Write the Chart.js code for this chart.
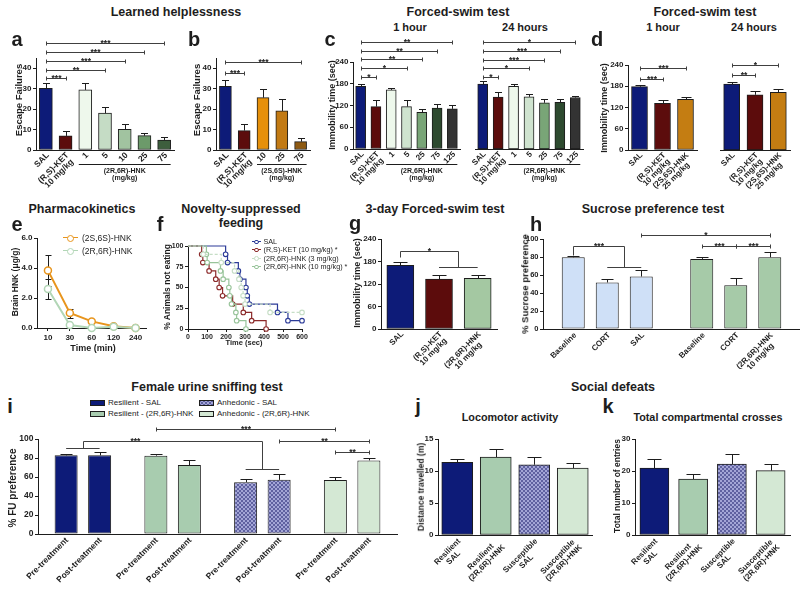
<!DOCTYPE html>
<html>
<head>
<meta charset="utf-8">
<title>HNK behavioural figure</title>
<script src="https://cdn.jsdelivr.net/npm/chart.js@4.4.1/dist/chart.umd.min.js"></script>
<style>
  body { margin: 0; background: #fff; }
  #fig { position: relative; width: 800px; height: 590px; overflow: hidden; background: #fff;
         font-family: "Liberation Sans", Arial, sans-serif; color: #1d1d1d; }
  #fig canvas { position: absolute; }
  .tx { position: absolute; white-space: nowrap; line-height: 1; }
</style>
</head>
<body>
<div id="fig"></div>
<script>
// ---------- data ----------
// a: learned helplessness, (2R,6R)-HNK
const lhLabelsA = ['SAL', ['(R,S)-KET', '10 mg/kg'], '1', '5', '10', '25', '75'];
const lhMeansA = [30.2, 6.9, 29.4, 18, 10.1, 7, 4.9];
const lhErrA = [2.8, 2.4, 3.3, 3.2, 2.5, 1.5, 1.6];
// b: learned helplessness, (2S,6S)-HNK
const lhLabelsB = ['SAL', ['(R,S)-KET', '10 mg/kg'], '10', '25', '75'];
const lhMeansB = [31.2, 9.5, 25.6, 19.1, 4.1];
const lhErrB = [3, 3.2, 4.1, 5.7, 1.6];
// c: forced swim, (2R,6R)-HNK
const fstLabelsC = ['SAL', ['(R,S)-KET', '10 mg/kg'], '1', '5', '25', '75', '125'];
const fst1hC = [172.6, 117, 163, 117, 101.5, 112.6, 110.8];
const fst1hErrC = [6.4, 18.7, 5, 18.7, 8.5, 12, 10.2];
const fst24hC = [179, 143, 172.6, 144, 127.4, 129, 142];
const fst24hErrC = [7.5, 15, 6.4, 8, 9.2, 10, 4.8];
// d: forced swim, (2S,6S)-HNK
const fstLabelsD = ['SAL', ['(R,S)-KET', '10 mg/kg'], ['(2S,6S)-HNK', '25 mg/kg']];
const fst1hD = [178.8, 131.8, 143];
const fst1hErrD = [3.8, 9.2, 6.6];
const fst24hD = [186.4, 156, 162.8];
const fst24hErrD = [5.6, 10.6, 8.2];
// e: pharmacokinetics
const pkTimes = ['10', '30', '60', '120', '240'];
const pkSS = [3.84, 1.0, 0.44, 0.12, 0.0];
const pkSSErr = [1.05, 0.3, 0.05, 0.04, 0];
const pkRR = [2.6, 0.2, 0.0, 0.08, 0.0];
const pkRRErr = [0.68, 0.05, 0, 0.02, 0];
// f: novelty-suppressed feeding (Kaplan-Meier steps)
const nsfSalT = [0, 198, 208, 265, 273, 305, 312, 323, 471, 526, 600];
const nsfSalP = [100, 90, 80, 70, 60, 50, 40, 30, 20, 10, 10];
const nsfKetT = [0, 72, 78, 111, 146, 164, 182, 235, 291, 335, 411];
const nsfKetP = [100, 90, 80, 70, 60, 50, 40, 30, 20, 10, 0];
const nsfHnk3T = [0, 80, 175, 245, 268, 280, 290, 300, 432, 600];
const nsfHnk3P = [100, 90, 80, 70, 60, 50, 40, 30, 20, 20];
const nsfHnk10T = [0, 97, 101, 171, 185, 215, 220, 229, 252, 256, 305];
const nsfHnk10P = [100, 90, 80, 70, 60, 50, 40, 30, 20, 10, 0];
// g: 3-day forced swim
const fst3Labels = ['SAL', ['(R,S)-KET', '10 mg/kg'], ['(2R,6R)-HNK', '10 mg/kg']];
const fst3Means = [169.8, 133.3, 135];
const fst3Err = [8.9, 10.7, 10];
// h: sucrose preference (two cohorts)
const spCohorts = ['SAL cohort', 'HNK cohort'];
const spBaseline = [79.7, 77.9];
const spBaselineErr = [1.8, 1.8];
const spCort = [51.7, 48.7];
const spCortErr = [4, 7.8];
const spTreat = [58.3, 79.7];
const spTreatErr = [7.4, 6.3];
const spTreatLabels = ['SAL', ['(2R,6R)-HNK', '10 mg/kg']];
// i: female urine sniffing
const fuGroups = ['Resilient - SAL', 'Resilient - (2R,6R)-HNK', 'Anhedonic - SAL', 'Anhedonic - (2R,6R)-HNK'];
const fuPre = [82.8, 82.5, 54.5, 56.8];
const fuPreErr = [1.4, 1.7, 3.5, 3.7];
const fuPost = [82.8, 72.6, 57, 77.5];
const fuPostErr = [3.5, 5.6, 6.5, 2.5];
// j, k: social defeat
const sdLabels = [['Resilient', 'SAL'], ['Resilient', '(2R,6R)-HNK'], ['Susceptible', 'SAL'], ['Susceptible', '(2R,6R)-HNK']];
const locoDist = [11.34, 12.18, 10.98, 10.45];
const locoErr = [0.55, 1.3, 1.2, 0.75];
const crosses = [20.9, 17.5, 22.2, 20.1];
const crossesErr = [2.8, 1.6, 3, 2];

// ---------- styling ----------
const FAM = '"Liberation Sans", Arial, sans-serif';
const INK = '#1d1d1d';
const SIGC = '#404040';
const NAVY = '#0d1b78';
const KETC = '#5c0c0c';
const RESHNK = '#a8ccaf';
const ANHHNK = '#d4e8d4';

Chart.defaults.font.family = FAM;
Chart.defaults.color = INK;

const fig = document.getElementById('fig');
const decoCfg = new Map();

function hatchCanvas() {
  const p = document.createElement('canvas');
  p.width = 4; p.height = 4;
  const g = p.getContext('2d');
  g.fillStyle = '#a3a5d6'; g.fillRect(0, 0, 4, 4);
  g.fillStyle = '#5f61a0';
  [[0, 0], [1, 1], [2, 2], [3, 3], [3, 0], [2, 1], [1, 2], [0, 3]].forEach(([x, y]) => g.fillRect(x, y, 1, 1));
  return p;
}
const hatchSrc = hatchCanvas();
const HATCH = hatchSrc.getContext('2d').createPattern(hatchSrc, 'repeat');

function crisp(v) { return Math.round(v) + 0.5; }
function seg(ctx, x1, y1, x2, y2) { ctx.beginPath(); ctx.moveTo(x1, y1); ctx.lineTo(x2, y2); ctx.stroke(); }

function drawErrors(chart) {
  const ctx = chart.ctx, ys = chart.scales.y;
  ctx.save();
  ctx.strokeStyle = INK; ctx.lineWidth = 1;
  chart.data.datasets.forEach((ds, d) => {
    if (!ds.errors) return;
    chart.getDatasetMeta(d).data.forEach((el, i) => {
      const e = ds.errors[i];
      if (!e) return;
      const raw = ds.data[i];
      const v = typeof raw === 'object' ? raw.y : raw;
      const x = crisp(el.x);
      const top = crisp(ys.getPixelForValue(v + e));
      const bot = ds.errBoth ? crisp(ys.getPixelForValue(v - e)) : el.y;
      const cw = ds.errCap || 3;
      seg(ctx, x, bot, x, top);
      seg(ctx, x - cw, top, x + cw, top);
      if (ds.errBoth) seg(ctx, x - cw, bot, x + cw, bot);
    });
  });
  ctx.restore();
}

function drawTickLabels(chart, o) {
  const ctx = chart.ctx, bottom = chart.chartArea.bottom;
  ctx.save();
  ctx.fillStyle = INK;
  ctx.font = `bold ${o.tickFont}px ${FAM}`;
  ctx.textAlign = 'center'; ctx.textBaseline = 'middle';
  chart.data.datasets.forEach((ds, d) => {
    const labs = ds.tickLabels || (d === 0 ? chart.data.labels : null);
    if (!labs) return;
    chart.getDatasetMeta(d).data.forEach((el, i) => {
      const lines = [].concat(labs[i]);
      const w = Math.max(...lines.map(s => ctx.measureText(s).width));
      ctx.save();
      ctx.translate(el.x + o.dx, bottom + o.dy);
      ctx.rotate(-Math.PI / 4);
      lines.forEach((s, k) => ctx.fillText(s, -w / 2, k * o.lh));
      ctx.restore();
    });
  });
  ctx.restore();
}

function drawSig(chart, s) {
  const ctx = chart.ctx, ys = chart.scales.y;
  const X = r => { const [d, i] = Array.isArray(r) ? r : [0, r]; return chart.getDatasetMeta(d).data[i].x; };
  const Y = v => crisp(ys.getPixelForValue(v));
  ctx.save();
  ctx.strokeStyle = SIGC; ctx.lineWidth = 1; ctx.fillStyle = INK;
  ctx.font = `bold 8.5px ${FAM}`; ctx.textAlign = 'center'; ctx.textBaseline = 'alphabetic';
  let tx, ty;
  if (s.A) {
    const mid = refs => refs.reduce((acc, r) => acc + X(r), 0) / refs.length;
    const yA = Y(s.hA), yB = Y(s.hB), yT = Y(s.top);
    const xa = crisp(mid(s.A)), xb = crisp(mid(s.B));
    if (s.A.length > 1) seg(ctx, X(s.A[0]), yA, X(s.A[s.A.length - 1]), yA);
    if (s.B.length > 1) seg(ctx, X(s.B[0]), yB, X(s.B[s.B.length - 1]), yB);
    seg(ctx, xa, yA, xa, yT); seg(ctx, xb, yB, xb, yT); seg(ctx, xa, yT, xb, yT);
    tx = xa + (xb - xa) * (s.tf === undefined ? 0.5 : s.tf); ty = yT;
  } else {
    const x1 = crisp(X(s.a)), x2 = crisp(X(s.b)), y = Y(s.v);
    seg(ctx, x1, y, x2, y); seg(ctx, x1, y - 2, x1, y + 2); seg(ctx, x2, y - 2, x2, y + 2);
    tx = (x1 + x2) / 2; ty = y;
  }
  ctx.fillText(s.t, tx, ty + 2);
  ctx.restore();
}

function drawGroup(chart, g) {
  const ctx = chart.ctx, meta = chart.getDatasetMeta(0);
  const a = meta.data[g.from], b = meta.data[g.to];
  const y = crisp(chart.chartArea.bottom + g.dy);
  ctx.save();
  ctx.strokeStyle = INK; ctx.lineWidth = 1; ctx.fillStyle = INK;
  seg(ctx, a.x - a.width / 2, y, b.x + b.width / 2, y);
  ctx.font = `bold 7px ${FAM}`; ctx.textAlign = 'center'; ctx.textBaseline = 'top';
  g.lines.forEach((s, k) => ctx.fillText(s, (a.x + b.x) / 2, y + 3 + k * 7.5));
  ctx.restore();
}

Chart.register({
  id: 'deco',
  beforeDatasetsDraw(chart) { if (chart.config.type === 'line') drawErrors(chart); },
  afterDatasetsDraw(chart) { if (chart.config.type !== 'line') drawErrors(chart); },
  afterDraw(chart) {
    const o = decoCfg.get(chart.canvas) || {};
    if (o.tickFont) drawTickLabels(chart, o);
    (o.sig || []).forEach(s => drawSig(chart, s));
    (o.groups || []).forEach(g => drawGroup(chart, g));
  }
});

function makeCanvas(area, ext) {
  const c = document.createElement('canvas');
  c.width = Math.round(area[2] - area[0] + ext[0] + ext[2]);
  c.height = Math.round(area[3] - area[1] + ext[1] + ext[3]);
  c.style.left = (area[0] - ext[0]) + 'px';
  c.style.top = (area[1] - ext[1]) + 'px';
  fig.appendChild(c);
  return c;
}

function valAxis(max, step, width, hidden, fmt, size) {
  return {
    display: !hidden, min: 0, max,
    grid: { drawOnChartArea: false, drawTicks: true, tickLength: 3, color: INK },
    border: { display: true, color: INK, width: 1 },
    ticks: { stepSize: step, includeBounds: false, padding: 1.5, color: INK,
             font: { size: size || 8, weight: 'bold' }, callback: fmt || (v => v) },
    afterFit(s) { s.width = width; s.paddingTop = 0; s.paddingBottom = 0; }
  };
}

function catAxis(h) {
  return {
    type: 'category', offset: true,
    grid: { display: false },
    border: { display: true, color: INK, width: 1 },
    ticks: { display: false },
    afterFit(s) { s.height = h; s.paddingLeft = 0; s.paddingRight = 0; }
  };
}

function baseOptions(ext, hideY) {
  return {
    responsive: false, animation: false, devicePixelRatio: 1,
    layout: { padding: { left: hideY ? ext[0] : 0, top: ext[1], right: ext[2], bottom: 0 } },
    plugins: { legend: { display: false }, tooltip: { enabled: false } }
  };
}

function barChart(area, ext, labels, datasets, yMax, yStep, deco, opts) {
  opts = opts || {};
  const canvas = makeCanvas(area, ext);
  decoCfg.set(canvas, deco);
  const options = baseOptions(ext, opts.hideY);
  options.scales = {
    x: catAxis(ext[3]),
    y: valAxis(yMax, yStep, opts.hideY ? 0 : ext[0], opts.hideY, opts.fmt, opts.tickSize)
  };
  return new Chart(canvas, { type: 'bar', data: { labels, datasets }, options });
}

function barSet(values, errors, colors, thick, cap) {
  return { data: values, errors, backgroundColor: colors, borderColor: INK, borderWidth: 1,
           borderSkipped: false, barThickness: thick, errCap: cap };
}

// ---------- text helpers ----------
function txt(s, x, y, size, o) {
  o = o || {};
  const d = document.createElement('div');
  d.className = 'tx';
  d.textContent = s;
  d.style.left = x + 'px';
  d.style.top = y + 'px';
  d.style.fontSize = size + 'px';
  d.style.fontWeight = o.normal ? 'normal' : 'bold';
  d.style.transform = `translate(${o.left ? '0' : '-50%'},-50%)` + (o.rot ? ` rotate(${o.rot}deg)` : '');
  fig.appendChild(d);
}
function lineKey(x1, x2, y, color, dashed, r) {
  const l = document.createElement('div');
  l.style.cssText = `position:absolute;left:${x1}px;top:${y - 0.75}px;width:${x2 - x1}px;height:0;` +
    `border-top:1.5px ${dashed ? 'dashed' : 'solid'} ${color}`;
  fig.appendChild(l);
  const c = document.createElement('div');
  c.style.cssText = `position:absolute;left:${(x1 + x2) / 2 - r}px;top:${y - r}px;width:${2 * r}px;height:${2 * r}px;` +
    `box-sizing:border-box;border:1.3px solid ${color};border-radius:50%;background:#fff`;
  fig.appendChild(c);
}
function swatch(x, y, bg) {
  const s = document.createElement('div');
  s.style.cssText = `position:absolute;left:${x}px;top:${y - 3}px;width:15px;height:6px;box-sizing:border-box;` +
    `border:1px solid ${INK};background:${bg}`;
  fig.appendChild(s);
}

// ---------- panel a ----------
barChart([36, 58, 174, 150], [29, 22, 6, 40], lhLabelsA,
  [barSet(lhMeansA, lhErrA, [NAVY, KETC, '#eef8ec', '#c5dcc5', '#a1c3a0', '#6c9a6a', '#3d5e3d'], 13, 3.5)],
  45, 10,
  { tickFont: 8.5, dx: 2, dy: 4, lh: 8,
    sig: [{ a: 0, b: 1, v: 35.3, t: '***' }, { a: 0, b: 3, v: 39, t: '**' }, { a: 0, b: 4, v: 43.4, t: '***' },
          { a: 0, b: 5, v: 47.7, t: '***' }, { a: 0, b: 6, v: 52.3, t: '***' }],
    groups: [{ from: 2, to: 6, dy: 14, lines: ['(2R,6R)-HNK', '(mg/kg)'] }] });

// ---------- panel b ----------
barChart([216, 58, 310, 150], [26, 22, 4, 40], lhLabelsB,
  [barSet(lhMeansB, lhErrB, [NAVY, KETC, '#e6900a', '#c27a14', '#8e5a12'], 12, 3.5)],
  45, 10,
  { tickFont: 8.5, dx: 2, dy: 4, lh: 8,
    sig: [{ a: 0, b: 1, v: 37.7, t: '***' }, { a: 0, b: 4, v: 43.1, t: '***' }],
    groups: [{ from: 2, to: 4, dy: 14, lines: ['(2S,6S)-HNK', '(mg/kg)'] }] });

// ---------- panel c ----------
const cColors = [NAVY, KETC, '#eef8ec', '#cfe3cf', '#79a577', '#2d4a2f', '#333333'];
barChart([353, 62, 460, 149], [26, 26, 4, 40], fstLabelsC,
  [barSet(fst1hC, fst1hErrC, cColors, 10, 3.5)], 240, 60,
  { tickFont: 8, dx: 2, dy: 4, lh: 7.5,
    sig: [{ a: 0, b: 1, v: 198.6, t: '*' }, { a: 0, b: 3, v: 222.6, t: '*' }, { a: 0, b: 4, v: 247.4, t: '**' },
          { a: 0, b: 5, v: 271, t: '**' }, { a: 0, b: 6, v: 296, t: '**' }],
    groups: [{ from: 2, to: 6, dy: 15, lines: ['(2R,6R)-HNK', '(mg/kg)'] }] });
barChart([475, 62, 583, 149], [10, 26, 4, 40], fstLabelsC,
  [barSet(fst24hC, fst24hErrC, cColors, 10, 3.5)], 240, 60,
  { tickFont: 8, dx: 2, dy: 4, lh: 7.5,
    sig: [{ a: 0, b: 1, v: 199.4, t: '*' }, { a: 0, b: 3, v: 222.6, t: '*' }, { a: 0, b: 4, v: 245.5, t: '***' },
          { a: 0, b: 5, v: 270, t: '***' }, { a: 0, b: 6, v: 294, t: '*' }],
    groups: [{ from: 2, to: 6, dy: 15, lines: ['(2R,6R)-HNK', '(mg/kg)'] }] },
  { hideY: true });

// ---------- panel d ----------
const dColors = [NAVY, KETC, '#c47d12'];
barChart([628, 65, 697, 150], [26, 22, 4, 40], fstLabelsD,
  [barSet(fst1hD, fst1hErrD, dColors, 16, 5)], 240, 60,
  { tickFont: 8, dx: 2, dy: 4, lh: 7.5,
    sig: [{ a: 0, b: 1, v: 200.6, t: '***' }, { a: 0, b: 2, v: 231.6, t: '***' }] });
barChart([720, 65, 790, 150], [10, 22, 8, 40], fstLabelsD,
  [barSet(fst24hD, fst24hErrD, dColors, 16, 5)], 240, 60,
  { tickFont: 8, dx: 2, dy: 4, lh: 7.5,
    sig: [{ a: 0, b: 1, v: 211.9, t: '**' }, { a: 0, b: 2, v: 240, t: '*' }] },
  { hideY: true });

// ---------- panel e (line) ----------
(function () {
  const area = [37, 238, 148, 328], ext = [28, 8, 4, 28];
  const canvas = makeCanvas(area, ext);
  decoCfg.set(canvas, {});
  const options = baseOptions(ext, false);
  options.scales = {
    x: { type: 'category', offset: true,
         grid: { display: true, drawOnChartArea: false, drawTicks: true, tickLength: 3, color: INK },
         border: { display: true, color: INK, width: 1 },
         ticks: { font: { size: 8, weight: 'bold' }, color: INK, padding: 2, maxRotation: 0 },
         afterFit(s) { s.height = ext[3]; s.paddingLeft = 0; s.paddingRight = 0; } },
    y: valAxis(6, 2, ext[0], false, v => v.toFixed(1), 8)
  };
  const line = (vals, errs, color) => ({
    data: vals, errors: errs, errBoth: true, errCap: 3, borderColor: color, borderWidth: 2,
    pointRadius: 3.5, pointBorderWidth: 1.5, pointBackgroundColor: '#fff', pointBorderColor: color,
    tension: 0, clip: false
  });
  new Chart(canvas, { type: 'line',
    data: { labels: pkTimes, datasets: [line(pkRR, pkRRErr, '#b2d6b6'), line(pkSS, pkSSErr, '#e8951d')] },
    options });
})();

// ---------- panel f (Kaplan-Meier) ----------
(function () {
  const area = [188, 246, 302, 329], ext = [24, 8, 6, 22];
  const canvas = makeCanvas(area, ext);
  decoCfg.set(canvas, {});
  const options = baseOptions(ext, false);
  options.scales = {
    x: { type: 'linear', min: 0, max: 600,
         grid: { display: true, drawOnChartArea: false, drawTicks: true, tickLength: 3, color: INK },
         border: { display: true, color: INK, width: 1 },
         ticks: { stepSize: 100, includeBounds: false, font: { size: 7, weight: 'bold' }, color: INK, padding: 1, maxRotation: 0 },
         afterFit(s) { s.height = ext[3]; s.paddingLeft = 0; s.paddingRight = 0; } },
    y: valAxis(100, 25, ext[0], false, null, 7)
  };
  const km = (ts, ps, color, dashed) => ({
    data: ts.map((t, i) => ({ x: t, y: ps[i] })), stepped: true,
    borderColor: color, borderWidth: 1.2, borderDash: dashed ? [3, 2] : [],
    pointRadius: ts.map((t, i) => (i === 0 ? 0 : 2.3)), pointBorderWidth: 1.1,
    pointBackgroundColor: '#fff', pointBorderColor: color, clip: false
  });
  new Chart(canvas, { type: 'line',
    data: { datasets: [
      km(nsfHnk3T, nsfHnk3P, '#c6dec6', true),
      km(nsfHnk10T, nsfHnk10P, '#98c49a', false),
      km(nsfKetT, nsfKetP, '#8c2a2a', false),
      km(nsfSalT, nsfSalP, '#2c3b98', false)
    ] },
    options });
})();

// ---------- panel g ----------
barChart([381, 239, 497, 329], [26, 16, 4, 40], fst3Labels,
  [barSet(fst3Means, fst3Err, [NAVY, KETC, '#a4c8a2'], 27, 7)], 240, 60,
  { tickFont: 8, dx: 2, dy: 4, lh: 8,
    sig: [{ A: [0], hA: 192, B: [1, 2], hB: 165, top: 208, t: '*' }] });

// ---------- panel h (grouped) ----------
(function () {
  const blue = '#cfe0f7', green = '#a6caa8';
  const grp = (vals, errs, labs) => ({
    data: vals, errors: errs, tickLabels: labs, backgroundColor: [blue, green], borderColor: INK,
    borderWidth: 1, borderSkipped: false, categoryPercentage: 0.794, barPercentage: 0.676, errCap: 6
  });
  barChart([543, 239, 800, 329], [22, 16, 0, 40], spCohorts,
    [grp(spBaseline, spBaselineErr, ['Baseline', 'Baseline']),
     grp(spCort, spCortErr, ['CORT', 'CORT']),
     grp(spTreat, spTreatErr, spTreatLabels)], 100, 20,
    { tickFont: 8, dx: 2, dy: 5, lh: 8,
      sig: [{ A: [[0, 0]], hA: 82.2, B: [[1, 0], [2, 0]], hB: 69, top: 92.2, t: '***' },
            { a: [2, 0], b: [2, 1], v: 104.4, t: '*' },
            { a: [0, 1], b: [1, 1], v: 92.2, t: '***' },
            { a: [1, 1], b: [2, 1], v: 92.2, t: '***' }] },
    { tickSize: 7.5 });
})();

// ---------- panel i (grouped) ----------
(function () {
  const cols = [NAVY, RESHNK, HATCH, ANHHNK];
  const ph = (vals, errs, name) => ({
    data: vals, errors: errs, tickLabels: fuGroups.map(() => name), backgroundColor: cols, borderColor: INK,
    borderWidth: 1, borderSkipped: false, categoryPercentage: 0.7465, barPercentage: 0.687, errCap: 6
  });
  barChart([38, 439, 397, 534], [30, 20, 4, 56], fuGroups,
    [ph(fuPre, fuPreErr, 'Pre-treatment'), ph(fuPost, fuPostErr, 'Post-treatment')], 100, 20,
    { tickFont: 8.5, dx: 1, dy: 5, lh: 8,
      sig: [{ A: [[0, 0], [1, 0]], hA: 90.5, B: [[0, 2], [1, 2]], hB: 68.4, top: 98, t: '***', tf: 0.29 },
            { a: [0, 1], b: [0, 3], v: 110.5, t: '***' },
            { a: [1, 2], b: [1, 3], v: 98, t: '**' },
            { a: [0, 3], b: [1, 3], v: 86.3, t: '**' }] },
    { tickSize: 8.5 });
})();

// ---------- panels j, k ----------
const sdColors = [NAVY, RESHNK, HATCH, ANHHNK];
barChart([438, 439, 592, 535], [28, 10, 6, 55], sdLabels,
  [barSet(locoDist, locoErr, sdColors, 31, 7)], 15, 5,
  { tickFont: 8, dx: 2, dy: 5, lh: 8.5 });
barChart([635, 439, 790, 535], [28, 10, 6, 55], sdLabels,
  [barSet(crosses, crossesErr, sdColors, 29, 7)], 30, 10,
  { tickFont: 8, dx: 2, dy: 5, lh: 8.5 });

// ---------- titles, letters, axis titles, legends ----------
txt('Learned helplessness', 176, 12, 12.5);
txt('Forced-swim test', 458, 12, 12.5);
txt('1 hour', 410, 27, 11);
txt('24 hours', 525, 27, 11);
txt('Forced-swim test', 705, 12, 12.5);
txt('1 hour', 663, 27, 11);
txt('24 hours', 754, 27, 11);
txt('Pharmacokinetics', 82, 209, 12.5);
txt('Novelty-suppressed', 241, 209, 12.5);
txt('feeding', 241, 223, 12.5);
txt('3-day Forced-swim test', 435, 209, 12.5);
txt('Sucrose preference test', 653, 209, 12.5);
txt('Female urine sniffing test', 207, 387, 12.5);
txt('Social defeats', 613, 387, 12.5);
txt('Locomotor activity', 510, 417, 10.8);
txt('Total compartmental crosses', 708, 417, 10.8);

[['a', 17, 39], ['b', 194, 39], ['c', 330, 39], ['d', 597, 39], ['e', 17, 224], ['f', 160, 224],
 ['g', 355, 223], ['h', 536, 224], ['i', 10, 406], ['j', 418, 406], ['k', 608, 406]]
  .forEach(([s, x, y]) => txt(s, x, y, 20));

txt('Escape Failures', 19, 100, 9.5, { rot: -90 });
txt('Escape Failures', 197, 100, 9.5, { rot: -90 });
txt('Immobility time (sec)', 332, 105, 9, { rot: -90 });
txt('Immobility time (sec)', 604, 108, 9, { rot: -90 });
txt('Brain HNK (\u03bcg/g)', 15, 282, 8.5, { rot: -90 });
txt('% Animals not eating', 167, 287, 8.5, { rot: -90 });
txt('Immobility time (sec)', 357, 283, 9, { rot: -90 });
txt('% Sucrose preference', 525, 284, 9.5, { rot: -90 });
txt('% FU preference', 13, 488, 10, { rot: -90 });
txt('Distance travelled (m)', 421, 487, 8.5, { rot: -90 });
txt('Total number of entries', 617, 486, 8.5, { rot: -90 });
txt('Time (min)', 93, 348, 9);
txt('Time (sec)', 244, 343, 7.5);

// legend e
lineKey(63, 78, 238, '#e8951d', false, 3.5);
txt('(2S,6S)-HNK', 82, 238, 8.5, { left: true, normal: true });
lineKey(63, 78, 251, '#b2d6b6', false, 3.5);
txt('(2R,6R)-HNK', 82, 251, 8.5, { left: true, normal: true });

// legend f
[['SAL', '#2c3b98', false, 242], ['(R,S)-KET (10 mg/kg) *', '#8c2a2a', false, 250],
 ['(2R,6R)-HNK (3 mg/kg)', '#c6dec6', true, 258.5], ['(2R,6R)-HNK (10 mg/kg) *', '#98c49a', false, 267]]
  .forEach(([s, col, dash, y]) => { lineKey(252, 261, y, col, dash, 2.4); txt(s, 263.5, y, 7.2, { left: true, normal: true }); });

// legend i
swatch(90, 403, NAVY); txt('Resilient - SAL', 108, 403, 8, { left: true, normal: true });
swatch(90, 414, RESHNK); txt('Resilient - (2R,6R)-HNK', 108, 414, 8, { left: true, normal: true });
swatch(199, 403, `url(${hatchSrc.toDataURL()})`); txt('Anhedonic - SAL', 217, 403, 8, { left: true, normal: true });
swatch(199, 414, ANHHNK); txt('Anhedonic - (2R,6R)-HNK', 217, 414, 8, { left: true, normal: true });
</script>
</body>
</html>
